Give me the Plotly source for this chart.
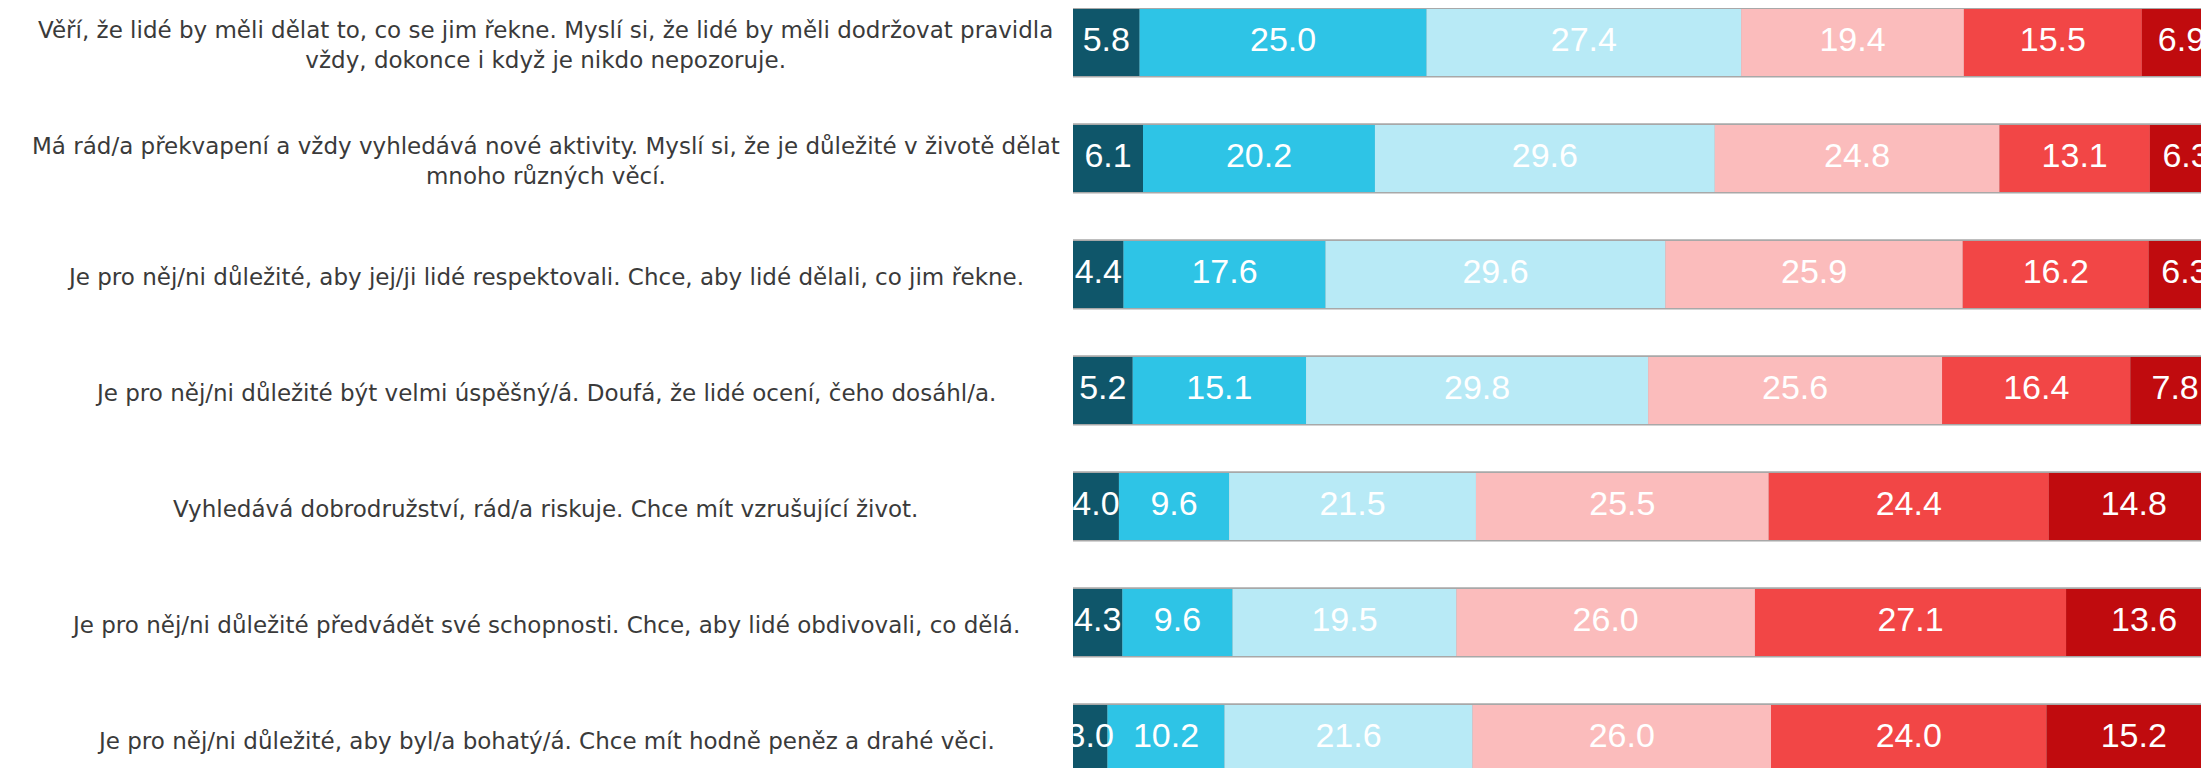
import numpy as np
import plotly.graph_objects as go

statements = [
    "Věří, že lidé by měli dělat to, co se jim řekne. Myslí si, že lidé by měli dodržovat pravidla<br>vždy, dokonce i když je nikdo nepozoruje.",
    "Má rád/a překvapení a vždy vyhledává nové aktivity. Myslí si, že je důležité v životě dělat<br>mnoho různých věcí.",
    "Je pro něj/ni důležité, aby jej/ji lidé respektovali. Chce, aby lidé dělali, co jim řekne.",
    "Je pro něj/ni důležité být velmi úspěšný/á. Doufá, že lidé ocení, čeho dosáhl/a.",
    "Vyhledává dobrodružství, rád/a riskuje. Chce mít vzrušující život.",
    "Je pro něj/ni důležité předvádět své schopnosti. Chce, aby lidé obdivovali, co dělá.",
    "Je pro něj/ni důležité, aby byl/a bohatý/á. Chce mít hodně peněz a drahé věci.",
]

categories = [
    "Velmi se mi podobá",
    "Podobá se mi",
    "Trochu se mi podobá",
    "Jen málo se mi podobá",
    "Nepodobá se mi",
    "Vůbec se mi nepodobá",
]

velmi = [5.8, 6.1, 4.4, 5.2, 4.0, 4.3, 3.0]
podoba = [25.0, 20.2, 17.6, 15.1, 9.6, 9.6, 10.2]
trochu = [27.4, 29.6, 29.6, 29.8, 21.5, 19.5, 21.6]
malo = [19.4, 24.8, 25.9, 25.6, 25.5, 26.0, 26.0]
nepodoba = [15.5, 13.1, 16.2, 16.4, 24.4, 27.1, 24.0]
vubec = [6.9, 6.3, 6.3, 7.8, 14.8, 13.6, 15.2]

colors = ["#0f566a", "#2ec4e6", "#b8eaf6", "#fbbcbc", "#f24646", "#c00b0e"]

series = [velmi, podoba, trochu, malo, nepodoba, vubec]
rows = np.arange(len(statements))
vals = np.array(series)
bases = np.vstack([np.zeros(len(statements)), np.cumsum(vals, axis=0)[:-1]])

fig = go.Figure()

# thin grey frame behind each bar
fig.add_bar(
    y=rows,
    x=vals.sum(axis=0),
    base=0,
    orientation="h",
    width=0.605,
    marker=dict(color="#a8a8a8", line=dict(width=0)),
    hoverinfo="skip",
    showlegend=False,
)

for name, v, b, c in zip(categories, series, bases, colors):
    fig.add_bar(
        y=rows,
        x=v,
        base=b,
        name=name,
        orientation="h",
        width=0.578,
        marker=dict(color=c, line=dict(width=0)),
    )

# value labels centred on each segment (last segment runs past the right edge)
fig.add_trace(
    go.Scatter(
        x=(bases + vals / 2).ravel(),
        y=np.tile(rows, len(series)),
        text=[f"{x:.1f}" for x in vals.ravel()],
        mode="text",
        textposition="middle center",
        textfont=dict(family="Liberation Sans, Arial", size=34, color="white"),
        cliponaxis=False,
        hoverinfo="skip",
        showlegend=False,
    )
)

for i, s in enumerate(statements):
    fig.add_annotation(
        x=-0.464,
        xref="paper",
        y=i,
        yref="y",
        text=s,
        showarrow=False,
        xanchor="center",
        yanchor="middle",
        align="center",
        yshift=-3,
        font=dict(family="DejaVu Sans, Verdana", size=23, color="#3a3a3a"),
    )

fig.update_layout(
    barmode="overlay",
    width=2201,
    height=760,
    margin=dict(l=1065, r=0, t=0, b=0),
    plot_bgcolor="white",
    paper_bgcolor="white",
    showlegend=False,
    xaxis=dict(range=[0, 98.95], visible=False, fixedrange=True),
    yaxis=dict(range=[6.255, -0.297], visible=False, fixedrange=True),
)

fig.write_html("out.html")
